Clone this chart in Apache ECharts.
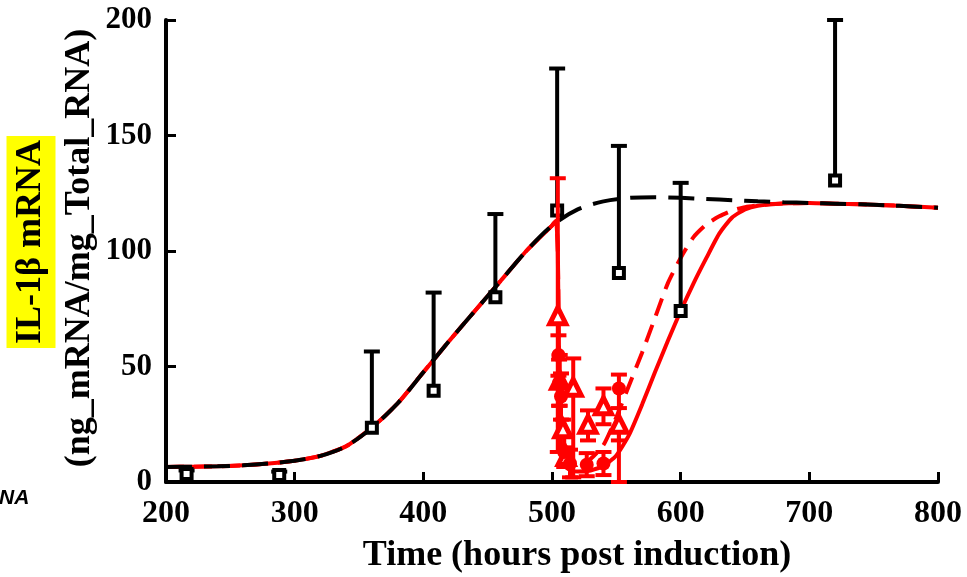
<!DOCTYPE html>
<html>
<head>
<meta charset="utf-8">
<script src="https://cdn.jsdelivr.net/npm/echarts@6/dist/echarts.min.js"></script>
<style>
  html, body { margin: 0; padding: 0; background: #fff; }
  #chart { width: 967px; height: 577px; }
</style>
</head>
<body>
<div id="chart"></div>
<script>
// Axis ticks
const xTicks = [200, 300, 400, 500, 600, 700, 800];
const yTicks = [0, 50, 100, 150, 200];

// Untreated measurements (squares) with upper error
const blackTime  = [216, 288, 360, 408, 456, 504, 552, 600, 720];
const blackMean  = [3.5, 3, 23.5, 39.5, 80, 117.5, 90.5, 74, 130.5];
const blackUpper = [5, 4.5, 56.5, 82, 116, 179, 145.5, 129.5, 200];

// Treated measurements, series 1 (triangles)
const triTime = [504.5, 506, 508.5, 511, 516.5, 528, 540, 552];
const triMean = [72, 44, 23, 11, 41, 25, 33, 25];
const triLow  = [13, 33, 19.5, 7, 2, 18, 25, 18];
const triHigh = [131.5, 55, 27, 15, 53.5, 31, 40.5, 32];

// Treated measurements, series 2 (circles)
const circTime = [505, 505.5, 507, 509.5, 514, 527, 540, 552];
const circMean = [55, 43, 37, 13, 8, 7.5, 8, 40.5];
const circLow  = [46, 33, 27, 6.5, 2, 2.5, 3, 0];
const circHigh = [63.5, 53, 47, 19.5, 14, 12.5, 13, 46.5];

// Model curve without treatment (black dashed)
const modelTime  = [200, 220, 240, 260, 280, 300, 320, 340, 360, 380, 400, 420, 440, 460, 480, 500, 520, 540, 560, 580, 600, 620, 640, 660, 680, 700, 720, 740, 760, 780, 800];
const modelValue = [6.5, 6.6, 6.8, 7.2, 8.0, 9.2, 11.3, 15.5, 23.5, 34, 47.5, 61, 74, 87, 100, 111, 118, 121.5, 123, 123.3, 123, 122.5, 122, 121.5, 121.1, 120.8, 120.5, 120.2, 119.8, 119.3, 118.7];

// Model curves with treatment (red solid / red dashed): shared rise, then drop at t = 504
const treatTime  = [200, 220, 240, 260, 280, 300, 320, 340, 360, 380, 400, 420, 440, 460, 480, 500, 503];
const treatValue = [6.5, 6.6, 6.8, 7.2, 8.0, 9.2, 11.3, 15.5, 23.5, 34, 47.5, 61, 74, 87, 100, 111, 113];
const solidTime  = [504.5, 505.5, 507, 510, 515, 520, 530, 540, 550, 560, 570, 580, 590, 600, 610, 620, 630, 640, 650, 660, 680, 700, 720, 740, 760, 780, 800];
const solidValue = [100, 50, 15, 7, 5, 4.5, 5, 7, 11.5, 20.5, 33.5, 47.5, 61, 74, 86, 97, 107.5, 114.5, 118, 119.6, 120.6, 120.8, 120.5, 120.2, 119.8, 119.3, 118.7];
const dashTime   = [504.5, 505.5, 507, 510, 515, 520, 530, 540, 550, 560, 570, 580, 590, 600, 610, 620, 630, 640, 650, 670, 700, 720, 740, 760, 780, 800];
const dashValue  = [100, 50, 15, 7, 6, 7, 10, 16, 28, 42, 56, 71, 86, 97, 106, 111.5, 115, 117.5, 119, 120.3, 120.8, 120.5, 120.2, 119.8, 119.3, 118.7];

const pairs = (xs, ys) => xs.map((x, i) => [x, ys[i]]);
const triples = (xs, a, b) => xs.map((x, i) => [x, a[i], b[i]]);

const RED = '#ff0000';
const BLACK = '#000000';
const SERIF = '"Liberation Serif", "Times New Roman", serif';

function errorBars(color, width, capHalf, lowerCap) {
  return function (params, api) {
    const x = api.value(0);
    const lo = api.coord([x, api.value(1)]);
    const hi = api.coord([x, api.value(2)]);
    const st = { stroke: color, lineWidth: width };
    const kids = [
      { type: 'line', shape: { x1: lo[0], y1: lo[1], x2: hi[0], y2: hi[1] }, style: st },
      { type: 'line', shape: { x1: hi[0] - capHalf, y1: hi[1], x2: hi[0] + capHalf, y2: hi[1] }, style: st }
    ];
    if (lowerCap) {
      kids.push({ type: 'line', shape: { x1: lo[0] - capHalf, y1: lo[1], x2: lo[0] + capHalf, y2: lo[1] }, style: st });
    }
    return { type: 'group', children: kids };
  };
}

const chart = echarts.init(document.getElementById('chart'), null, { renderer: 'canvas' });

chart.setOption({
  animation: false,
  backgroundColor: '#ffffff',
  grid: { left: 166, right: 29, top: 20, bottom: 95 },
  xAxis: {
    type: 'value', min: xTicks[0], max: xTicks[xTicks.length - 1], interval: 100,
    axisLine: { show: true, lineStyle: { color: BLACK, width: 4 } },
    axisTick: { show: true, inside: true, length: 10, lineStyle: { color: BLACK, width: 3 } },
    axisLabel: { margin: 16, color: BLACK, fontFamily: SERIF, fontWeight: 'bold', fontSize: 32 },
    splitLine: { show: false }
  },
  yAxis: {
    type: 'value', min: yTicks[0], max: yTicks[yTicks.length - 1], interval: 50,
    axisLine: { show: true, lineStyle: { color: BLACK, width: 4 } },
    axisTick: { show: true, inside: true, length: 10, lineStyle: { color: BLACK, width: 3 } },
    axisLabel: { margin: 14, color: BLACK, fontFamily: SERIF, fontWeight: 'bold', fontSize: 31 },
    splitLine: { show: false }
  },
  graphic: [
    {
      type: 'text', x: 31, y: 242, rotation: Math.PI / 2,
      style: {
        text: 'IL-1β mRNA', fill: BLACK, font: 'bold 36px ' + SERIF,
        align: 'center', verticalAlign: 'middle',
        backgroundColor: '#ffff00', padding: [7, 4, 6, 4]
      }
    },
    {
      type: 'text', x: 80, y: 248, rotation: Math.PI / 2,
      style: {
        text: '(ng_mRNA/mg_Total_RNA)', fill: BLACK, font: 'bold 36px ' + SERIF,
        align: 'center', verticalAlign: 'middle'
      }
    },
    {
      type: 'text', x: 577, y: 556,
      style: {
        text: 'Time (hours post induction)', fill: BLACK, font: 'bold 36px ' + SERIF,
        align: 'center', verticalAlign: 'middle'
      }
    },
    {
      type: 'text', x: -1, y: 498,
      style: {
        text: 'NA', fill: BLACK, font: 'italic bold 21px "Liberation Sans", Arial, sans-serif',
        align: 'left', verticalAlign: 'middle'
      }
    }
  ],
  series: [
    {
      name: 'treated', type: 'line', z: 2, showSymbol: false, smooth: 0.2,
      data: pairs(treatTime, treatValue).concat(pairs(solidTime, solidValue)),
      lineStyle: { color: RED, width: 4 }
    },
    {
      name: 'treated alt', type: 'line', z: 2, showSymbol: false, smooth: 0.2,
      data: pairs(treatTime, treatValue).concat(pairs(dashTime, dashValue)),
      lineStyle: { color: RED, width: 4, type: [18, 10] }
    },
    {
      name: 'untreated model', type: 'line', z: 3, showSymbol: false, smooth: 0.3,
      data: pairs(modelTime, modelValue),
      lineStyle: { color: BLACK, width: 4, type: [26, 12] }
    },
    {
      name: 'untreated error', type: 'custom', z: 4,
      renderItem: errorBars(BLACK, 4, 8, false),
      encode: { x: 0, y: [1, 2] },
      data: triples(blackTime, blackMean, blackUpper)
    },
    {
      name: 'untreated', type: 'scatter', z: 5, symbol: 'rect', symbolSize: 10,
      itemStyle: { color: '#ffffff', borderColor: BLACK, borderWidth: 4, opacity: 1 },
      data: pairs(blackTime, blackMean)
    },
    {
      name: 'tri error', type: 'custom', z: 6,
      renderItem: errorBars(RED, 4, 8, true),
      encode: { x: 0, y: [1, 2] },
      data: triples(triTime, triLow, triHigh)
    },
    {
      name: 'circ error', type: 'custom', z: 6,
      renderItem: errorBars(RED, 4, 8, true),
      encode: { x: 0, y: [1, 2] },
      data: triples(circTime, circLow, circHigh)
    },
    {
      name: 'tri', type: 'scatter', z: 7, symbol: 'triangle', symbolSize: 16,
      itemStyle: { color: '#ffffff', borderColor: RED, borderWidth: 5, opacity: 1 },
      data: pairs(triTime, triMean)
    },
    {
      name: 'circ', type: 'scatter', z: 7, symbol: 'circle', symbolSize: 14,
      itemStyle: { color: RED, opacity: 1 },
      data: pairs(circTime, circMean)
    }
  ]
});
</script>
</body>
</html>
